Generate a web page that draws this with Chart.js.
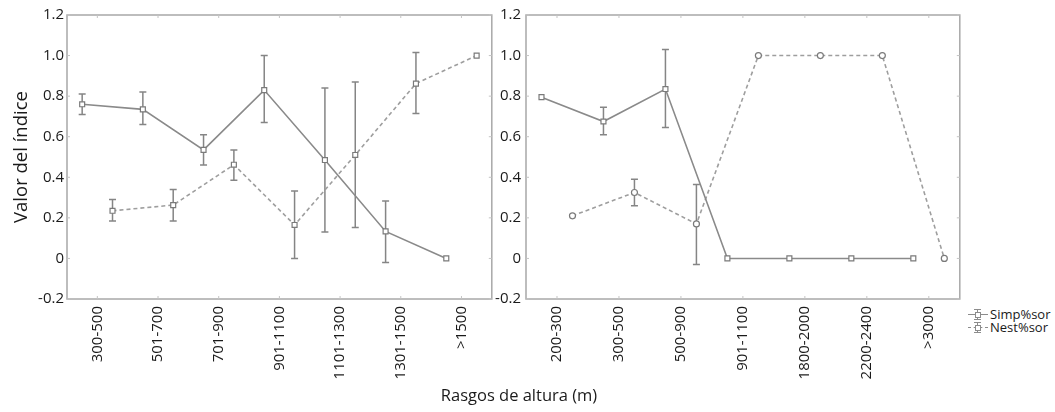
<!DOCTYPE html>
<html>
<head>
<meta charset="utf-8">
<script src="https://cdn.jsdelivr.net/npm/chart.js@4.4.1/dist/chart.umd.min.js"></script>
<style>
    body { margin: 0; background: #fff; }
    #wrap { position: relative; width: 1055px; height: 412px; background: #fff; overflow: hidden; font-family: "Open Sans", sans-serif; }
    canvas { position: absolute; top: 0; }
    #leftChart { left: 0; }
    #rightChart { left: 470px; }
    #xTitle { position: absolute; left: 0; width: 1038px; top: 383px; text-align: center; font-size: 16.5px; color: #1a1a1a; }
    #legend { position: absolute; left: 968px; top: 308px; font-size: 13px; line-height: 13px; color: #1a1a1a; }
    .item { display: flex; align-items: center; height: 13px; }
    .icon { position: relative; width: 20px; height: 13px; margin-right: 2px; }
    .icon .ln { position: absolute; left: 0; right: 0; top: 6px; border-top: 1px solid #8c8c8c; }
    .icon .ln.dash { border-top-style: dashed; }
    .icon .eb { position: absolute; left: 9px; top: 1px; height: 10px; border-left: 1px solid #8c8c8c; }
    .icon .cap { position: absolute; left: 6px; width: 7px; border-top: 1px solid #8c8c8c; }
    .icon .mk { position: absolute; left: 7px; top: 4px; width: 4px; height: 4px; border: 1px solid #8c8c8c; background: #fff; }
</style>
</head>
<body>
<div id="wrap">
    <canvas id="leftChart" width="497" height="390"></canvas>
    <canvas id="rightChart" width="495" height="390"></canvas>
    <div id="xTitle">Rasgos de altura (m)</div>
    <div id="legend">
        <div class="item"><span class="icon"><span class="ln"></span><span class="eb"></span><span class="cap" style="top:1px"></span><span class="cap" style="top:11px"></span><span class="mk"></span></span>Simp%sor</div>
        <div class="item"><span class="icon"><span class="ln dash"></span><span class="eb"></span><span class="cap" style="top:1px"></span><span class="cap" style="top:11px"></span><span class="mk"></span></span>Nest%sor</div>
    </div>
</div>
<script>
// --- data ---
const leftLabels = ['300-500', '501-700', '701-900', '901-1100', '1101-1300', '1301-1500', '>1500'];
const leftSimp   = [0.76, 0.735, 0.535, 0.83, 0.485, 0.133, 0];
const leftSimpLo = [0.71, 0.66, 0.46, 0.67, 0.13, -0.02, null];
const leftSimpHi = [0.81, 0.82, 0.61, 1.0, 0.84, 0.283, null];
const leftNest   = [0.235, 0.263, 0.462, 0.165, 0.51, 0.862, 1.0];
const leftNestLo = [0.185, 0.184, 0.386, 0, 0.153, 0.715, null];
const leftNestHi = [0.29, 0.34, 0.535, 0.332, 0.87, 1.015, null];

const rightLabels = ['200-300', '300-500', '500-900', '901-1100', '1800-2000', '2200-2400', '>3000'];
const rightSimp   = [0.795, 0.675, 0.835, 0, 0, 0, 0];
const rightSimpLo = [null, 0.61, 0.645, null, null, null, null];
const rightSimpHi = [null, 0.745, 1.03, null, null, null, null];
const rightNest   = [0.21, 0.325, 0.17, 1.0, 1.0, 1.0, 0];
const rightNestLo = [null, 0.26, -0.03, null, null, null, null];
const rightNestHi = [null, 0.39, 0.365, null, null, null, null];

const yMin = -0.2, yMax = 1.2, yStep = 0.2;

// --- styling ---
const SHIFT = 0.25;          // simp drawn left of the tick, nest right of it
const lineGrey = '#8a8a8a';
const dashGrey = '#9e9e9e';
const frameGrey = '#a8a8a8';
const textColor = '#1a1a1a';

const toPoints = (vals, shift) => vals.map((v, i) => ({ x: i + shift, y: v }));

// error bars (under the markers) + box frame with small inward ticks
const framePlugin = {
    id: 'framePlugin',
    beforeDatasetsDraw(chart, args, opts) {
        const { ctx, scales: { x, y } } = chart;
        ctx.save();
        ctx.strokeStyle = '#858585';
        ctx.lineWidth = 1.5;
        opts.bars.forEach(b => {
            b.lo.forEach((lo, i) => {
                if (lo == null) return;
                const px = x.getPixelForValue(i + b.shift);
                const pLo = y.getPixelForValue(lo);
                const pHi = y.getPixelForValue(b.hi[i]);
                ctx.beginPath();
                ctx.moveTo(px, pLo); ctx.lineTo(px, pHi);
                ctx.moveTo(px - 3.5, pLo); ctx.lineTo(px + 3.5, pLo);
                ctx.moveTo(px - 3.5, pHi); ctx.lineTo(px + 3.5, pHi);
                ctx.stroke();
            });
        });
        ctx.restore();
    },
    afterDraw(chart) {
        const { ctx, chartArea: a, scales: { x, y } } = chart;
        ctx.save();
        ctx.strokeStyle = frameGrey;
        ctx.lineWidth = 1.5;
        ctx.strokeRect(a.left, a.top, a.right - a.left, a.bottom - a.top);
        ctx.lineWidth = 1;
        ctx.strokeStyle = '#c4c4c4';
        ctx.beginPath();
        x.ticks.forEach(t => {
            const px = x.getPixelForValue(t.value);
            ctx.moveTo(px, a.top); ctx.lineTo(px, a.top + 3);
            ctx.moveTo(px, a.bottom); ctx.lineTo(px, a.bottom - 3);
        });
        y.ticks.forEach(t => {
            const py = y.getPixelForValue(t.value);
            ctx.moveTo(a.left, py); ctx.lineTo(a.left + 3, py);
            ctx.moveTo(a.right, py); ctx.lineTo(a.right - 3, py);
        });
        ctx.stroke();
        ctx.restore();
    }
};

function makeChart(id, cfg) {
    const simp = {
        data: toPoints(cfg.simp, -SHIFT),
        borderColor: lineGrey,
        borderWidth: 1.6,
        pointStyle: 'rect',
        pointRadius: 3.5,
        pointBackgroundColor: '#fff',
        pointBorderColor: '#7a7a7a',
        pointBorderWidth: 1.2
    };
    const nest = {
        data: toPoints(cfg.nest, SHIFT),
        borderColor: dashGrey,
        borderWidth: 1.6,
        borderDash: [4, 3],
        pointStyle: cfg.nestStyle,
        pointRadius: cfg.nestStyle === 'circle' ? 3 : 3.5,
        pointBackgroundColor: '#fff',
        pointBorderColor: '#7a7a7a',
        pointBorderWidth: 1.2
    };
    return new Chart(document.getElementById(id), {
        type: 'line',
        data: { datasets: [simp, nest] },
        plugins: [framePlugin],
        options: {
            responsive: false,
            animation: false,
            layout: { padding: { top: 15, right: cfg.padRight, bottom: 0, left: 0 } },
            plugins: {
                legend: { display: false },
                tooltip: { enabled: false },
                framePlugin: {
                    bars: [
                        { shift: -SHIFT, lo: cfg.simpLo, hi: cfg.simpHi },
                        { shift: SHIFT, lo: cfg.nestLo, hi: cfg.nestHi }
                    ]
                }
            },
            scales: {
                x: {
                    type: 'linear',
                    min: -0.5,
                    max: cfg.labels.length - 0.5,
                    grid: { display: false, drawTicks: false },
                    border: { display: false },
                    afterBuildTicks: s => { s.ticks = cfg.labels.map((_, i) => ({ value: i })); },
                    afterFit: s => { s.height = 91; },
                    ticks: {
                        autoSkip: false,
                        minRotation: 90,
                        maxRotation: 90,
                        padding: 7,
                        color: textColor,
                        font: { family: 'Open Sans', size: 15 },
                        callback: v => cfg.labels[v]
                    }
                },
                y: {
                    min: yMin,
                    max: yMax,
                    grid: { display: false, drawTicks: false },
                    border: { display: false },
                    afterFit: s => { s.width = cfg.yWidth; },
                    title: {
                        display: cfg.showTitle,
                        text: 'Valor del índice',
                        color: textColor,
                        font: { family: 'Open Sans', size: 18.5 },
                        padding: { top: 11, bottom: 0 }
                    },
                    ticks: {
                        stepSize: yStep,
                        padding: cfg.tickPad,
                        color: textColor,
                        font: { family: 'Open Sans', size: 15 },
                        callback: v => Math.abs(v) < 1e-9 ? '0' : v.toFixed(1)
                    }
                }
            }
        }
    });
}

makeChart('leftChart', {
    labels: leftLabels,
    simp: leftSimp, simpLo: leftSimpLo, simpHi: leftSimpHi,
    nest: leftNest, nestLo: leftNestLo, nestHi: leftNestHi,
    nestStyle: 'rect',
    yWidth: 67, tickPad: 3, padRight: 5, showTitle: true
});

makeChart('rightChart', {
    labels: rightLabels,
    simp: rightSimp, simpLo: rightSimpLo, simpHi: rightSimpHi,
    nest: rightNest, nestLo: rightNestLo, nestHi: rightNestHi,
    nestStyle: 'circle',
    yWidth: 56, tickPad: 5, padRight: 2, showTitle: false
});
</script>
</body>
</html>
